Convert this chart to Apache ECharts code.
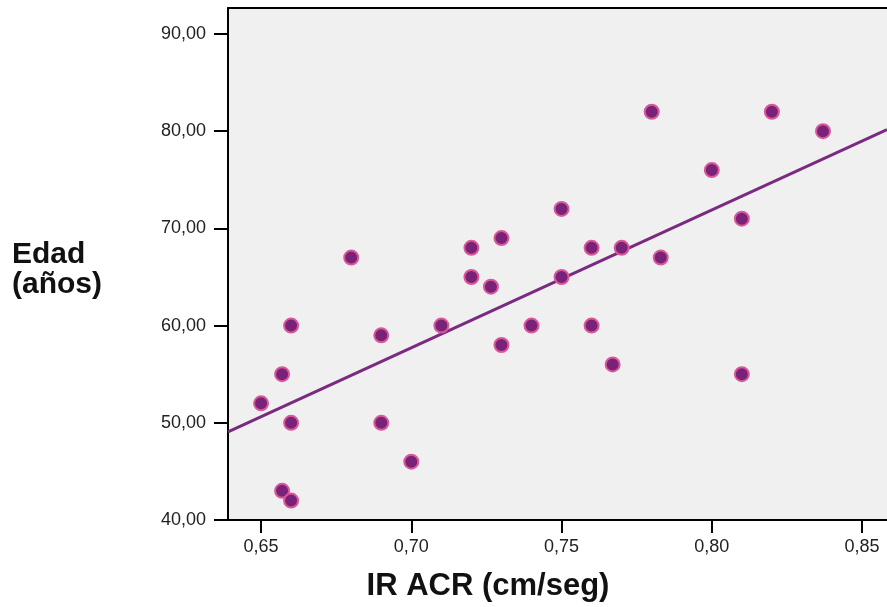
<!DOCTYPE html>
<html>
<head>
<meta charset="utf-8">
<script src="https://cdn.jsdelivr.net/npm/echarts@6/dist/echarts.min.js"></script>
<style>html,body{margin:0;padding:0;background:#fff}#c{width:887px;height:607px}</style>
</head>
<body>
<div id="c"></div>
<script>
// Data
var irAcr = [0.650,0.657,0.660,0.660,0.657,0.660,0.680,0.690,0.690,0.700,0.710,0.720,0.720,0.7265,0.730,0.730,0.740,0.750,0.750,0.760,0.760,0.767,0.770,0.780,0.783,0.800,0.810,0.810,0.820,0.837];
var edad  = [52,55,60,50,43,42,67,59,50,46,60,68,65,64,69,58,60,72,65,68,60,56,68,82,67,76,71,55,82,80];
var xTicks = [0.65,0.70,0.75,0.80,0.85];
var yTicks = [40,50,60,70,80,90];
var xTitle = 'IR ACR (cm/seg)';
var yTitle = 'Edad\n(años)';

var xMin = 0.639, xMax = 0.8583, yMin = 40, yMax = 92.67;

// least squares fit
var n = irAcr.length, mx = 0, my = 0;
for (var i = 0; i < n; i++) { mx += irAcr[i]; my += edad[i]; }
mx /= n; my /= n;
var sxy = 0, sxx = 0;
for (var i = 0; i < n; i++) { sxy += (irAcr[i]-mx)*(edad[i]-my); sxx += (irAcr[i]-mx)*(irAcr[i]-mx); }
var slope = sxy/sxx, icpt = my - slope*mx;
var fit = [[xMin, icpt + slope*xMin], [xMax, icpt + slope*xMax]];

var pts = irAcr.map(function(x, i){ return [x, edad[i]]; });
var fmt = function(v){ return (Math.round(v*100)/100).toFixed(2).replace('.', ','); };
var font = 'Liberation Sans, Arial, sans-serif';

var chart = echarts.init(document.getElementById('c'), null, {renderer: 'canvas'});
chart.setOption({
  animation: false,
  backgroundColor: '#ffffff',
  grid: {left: 228, top: 8, right: 0, bottom: 87, show: true, backgroundColor: '#f0f0f0', borderWidth: 0},
  xAxis: [{
    type: 'value', min: xMin, max: xMax, position: 'bottom',
    splitLine: {show: false},
    axisLine: {show: true, onZero: false, lineStyle: {color: '#000', width: 2}},
    axisTick: {show: true, length: 13, customValues: xTicks, lineStyle: {color: '#000', width: 2}},
    axisLabel: {customValues: xTicks, formatter: fmt, color: '#222', fontSize: 18, fontFamily: font, margin: 18}
  }, {
    type: 'value', min: xMin, max: xMax, position: 'top',
    splitLine: {show: false},
    axisLine: {show: true, onZero: false, lineStyle: {color: '#000', width: 2}},
    axisTick: {show: false}, axisLabel: {show: false}
  }],
  yAxis: {
    type: 'value', min: yMin, max: yMax,
    splitLine: {show: false},
    axisLine: {show: true, onZero: false, lineStyle: {color: '#000', width: 2}},
    axisTick: {show: true, length: 14, customValues: yTicks, lineStyle: {color: '#000', width: 2}},
    axisLabel: {customValues: yTicks, formatter: fmt, color: '#222', fontSize: 18, fontFamily: font, margin: 22}
  },
  graphic: [
    {type: 'text', left: 12, top: 240, style: {text: yTitle, font: 'bold 30px ' + font, fill: '#111', lineHeight: 30}},
    {type: 'text', x: 488, y: 571, style: {text: xTitle, font: 'bold 31px ' + font, fill: '#111', align: 'center', verticalAlign: 'top'}}
  ],
  series: [{
    type: 'line', data: fit, xAxisIndex: 0, symbol: 'none', silent: true,
    lineStyle: {color: '#7a2a80', width: 3}, z: 2
  }, {
    type: 'scatter', data: pts, xAxisIndex: 0, symbolSize: 14, z: 3,
    itemStyle: {color: '#7a2278', borderColor: '#d9589a', borderWidth: 2, opacity: 1}
  }]
});
</script>
</body>
</html>
